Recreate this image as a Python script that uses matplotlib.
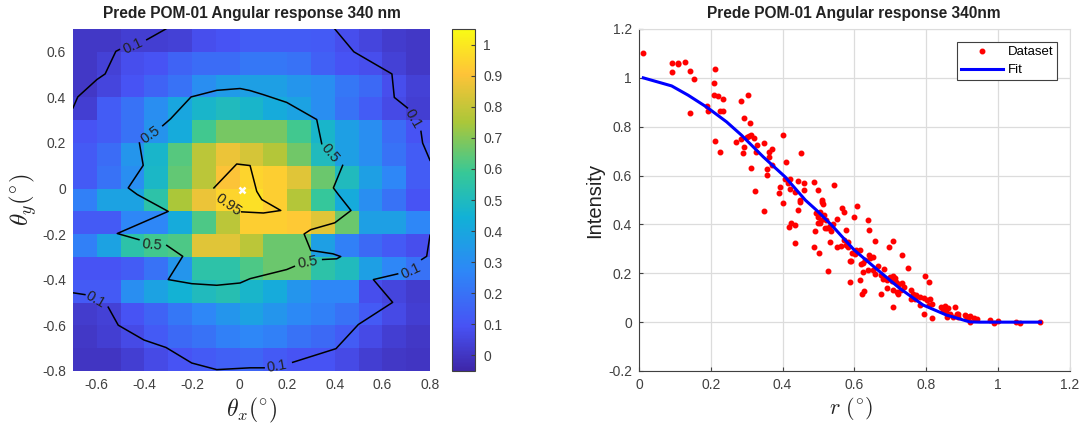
import numpy as np
import matplotlib
matplotlib.use('Agg')
import matplotlib.pyplot as plt
from matplotlib.colors import LinearSegmentedColormap

plt.rcParams['font.family'] = ['Liberation Sans', 'DejaVu Sans']
plt.rcParams['mathtext.fontset'] = 'cm'

title_left = 'Prede POM-01 Angular response 340 nm'
title_right = 'Prede POM-01 Angular response 340nm'

# angular map, rows from top (theta_y = 0.6) to bottom (theta_y = -0.8)
theta_x_edges = [-0.7, -0.6, -0.5, -0.4, -0.3, -0.2, -0.1, 0, 0.1, 0.2, 0.3, 0.4, 0.5, 0.6, 0.7, 0.8]
theta_y_edges = [0.7, 0.6, 0.5, 0.4, 0.3, 0.2, 0.1, 0, -0.1, -0.2, -0.3, -0.4, -0.5, -0.6, -0.7, -0.8]
response = [
    [.01, .01, .03, .03, .04, .08, .10, .13, .13, .13, .12, .08, .05, .02, .01],
    [.01, .04, .08, .10, .15, .18, .18, .22, .22, .20, .14, .10, .08, .04, .01],
    [.01, .05, .10, .15, .20, .30, .35, .37, .37, .33, .30, .22, .17, .08, .04],
    [.03, .13, .20, .30, .40, .47, .50, .47, .42, .38, .30, .20, .13, .07, .03],
    [.10, .13, .20, .32, .42, .60, .68, .68, .68, .60, .47, .37, .30, .18, .10],
    [.12, .18, .33, .47, .63, .78, .87, .83, .77, .67, .50, .37, .30, .20, .13],
    [.12, .20, .30, .48, .65, .78, .90, .95, .93, .85, .66, .50, .37, .27, .13],
    [.25, .38, .38, .55, .75, .87, .95, .98, .93, .77, .58, .42, .30, .20, .10],
    [.12, .12, .27, .27, .42, .62, .78, .93, .93, .92, .85, .66, .37, .37, .27],
    [.25, .38, .55, .60, .62, .85, .85, .78, .66, .66, .37, .25, .17, .12, .08],
    [.10, .10, .13, .20, .33, .55, .55, .62, .66, .66, .55, .50, .37, .27, .20],
    [.12, .12, .30, .38, .45, .50, .53, .47, .42, .33, .27, .27, .08, .05, .02],
    [.02, .04, .10, .15, .22, .27, .33, .38, .33, .28, .25, .20, .12, .07, .03],
    [.01, .03, .07, .12, .17, .20, .25, .27, .25, .20, .17, .13, .07, .03, .01],
    [0, 0, .03, .07, .10, .12, .14, .16, .12, .10, .10, .07, .03, .01, 0],
]

# contour pieces, gaps are where the labels sit
c01_x = [[-0.70, -0.68, -0.60, -0.565, -0.52, -0.505], [-0.39, -0.31],
         [0.40, 0.48, 0.64, 0.65, 0.705], [0.762, 0.769, 0.80],
         [0.80, 0.786, 0.765], [0.664, 0.562, 0.643, 0.499, 0.405, 0.223],
         [0.103, 0.044, -0.096, -0.201, -0.309, -0.402, -0.51, -0.552], [-0.65, -0.70]]
c01_y = [[0.354, 0.402, 0.478, 0.503, 0.602, 0.61], [0.653, 0.70],
         [0.70, 0.60, 0.503, 0.40, 0.354], [0.251, 0.20, 0.124],
         [-0.205, -0.297, -0.311], [-0.374, -0.399, -0.499, -0.596, -0.702, -0.762],
         [-0.786, -0.786, -0.794, -0.765, -0.697, -0.664, -0.599, -0.52], [-0.465, -0.457]]
c05_x = [[-0.323, -0.29, -0.204, -0.096, 0.002, 0.044, 0.10, 0.198, 0.324, 0.345],
         [0.433, 0.394, 0.415, 0.468, 0.40, 0.299, 0.271, 0.299, 0.392, 0.425, 0.408, 0.349],
         [0.23, 0.198, 0.044, 0.002, -0.096, -0.201, -0.30, -0.239, -0.306],
         [-0.423, -0.514, -0.30, -0.43, -0.468, -0.405, -0.421]]
c05_y = [[0.276, 0.306, 0.402, 0.431, 0.439, 0.43, 0.412, 0.378, 0.303, 0.197],
         [0.102, 0.003, -0.026, -0.096, -0.15, -0.18, -0.199, -0.271, -0.286, -0.298, -0.308, -0.311],
         [-0.341, -0.355, -0.395, -0.414, -0.424, -0.417, -0.399, -0.297, -0.249],
         [-0.224, -0.197, -0.10, -0.026, 0.003, 0.102, 0.20]]
c095_x = [-0.108, -0.012, 0.044, 0.072, 0.093, 0.173, 0.10, 0.009]
c095_y = [0.003, 0.108, 0.101, -0.012, -0.048, -0.096, -0.107, -0.102]

# radial profile
r_data = [.012, .092, .108, .110, .129, .091, .141, .153, .212, .209, .209, .220, .235, .305, .283, .190,
          .192, .142, .226, .235, .294, .309, .212, .227, .270, .283, .302, .307, .311, .321, .292, .291,
          .328, .327, .348, .400, .372, .363, .363, .311, .372, .358, .357, .451, .409, .322, .392, .391,
          .422, .408, .416, .421, .444, .459, .487, .544, .499, .459, .436, .449, .509,
          .402, .348, .450, .442, .509, .512, .566, .571, .492, .504, .515, .500, .507, .521, .551, .504,
          .500, .542, .532, .525, .518, .424, .435, .419, .490, .534, .577, .435, .533, .488, .502, .552,
          .562, .577, .571, .583, .583, .528, .588, .608, .598, .638, .642,
          .659, .708, .697, .734, .750, .796, .809, .595, .602, .616, .604, .591, .618, .623, .630, .642,
          .651, .644, .625, .639, .653, .667, .682, .659, .674, .681, .690, .699, .707, .713, .704, .716,
          .725, .733, .738, .729, .719, .708, .722, .691, .675, .628, .621, .616, .587, .708, .757, .764,
          .757, .773, .782, .769, .782, .794, .803, .811, .818, .809, .794, .818, .843, .852, .862, .848,
          .855, .866, .859, .882, .887, .876, .911, .918,
          .910, .917, .922, .924, .933, .942, .978, .989, 1.001, 1.050, 1.061, 1.119, .890, .890]
i_data = [1.102, 1.059, 1.056, 1.059, 1.064, 1.023, 1.027, .996, 1.038, .977, .928, .925, .914, .928, .906, .884,
          .864, .857, .866, .866, .834, .816, .741, .698, .738, .748, .756, .763, .767, .753, .719, .694,
          .726, .696, .735, .765, .707, .698, .678, .633, .645, .628, .603, .694, .655, .536, .554, .528,
          .587, .587, .568, .547, .578, .570, .572, .562, .540, .542, .531, .499, .499,
          .486, .454, .492, .458, .492, .483, .469, .449, .445, .452, .438, .431, .420, .417, .424, .407,
          .404, .400, .393, .387, .387, .407, .396, .389, .374, .374, .377, .326, .330, .308, .281, .307,
          .311, .315, .336, .329, .308, .211, .251, .476, .431, .420, .377,
          .332, .332, .308, .276, .222, .190, .166, .284, .278, .297, .297, .250, .237, .243, .256, .274,
          .265, .261, .206, .213, .213, .229, .216, .196, .192, .175, .172, .186, .188, .179, .169, .165,
          .158, .161, .145, .131, .124, .131, .115, .138, .116, .127, .115, .172, .164, .063, .131, .117,
          .093, .111, .104, .093, .070, .097, .090, .093, .076, .070, .035, .019, .063, .065, .056, .049,
          .042, .035, .022, .063, .033, .022, .025, .015,
          .029, .019, .001, .025, .019, .011, .008, -.003, .005, .001, -.005, 0, .035, .022]
r_fit = [.012, .091, .137, .19, .244, .286, .346, .407, .464, .495, .537, .6, .666, .727, .792, .857, .922, .95, 1.119]
i_fit = [1.0, .967, .929, .879, .82, .765, .677, .595, .499, .458, .397, .295, .213, .138, .07, .029, .001, 0, 0]

parula = LinearSegmentedColormap.from_list('parula', [
    (0.00, (0.2422, 0.1504, 0.6603)),
    (0.13, (0.2810, 0.3228, 0.9579)),
    (0.29, (0.1786, 0.5289, 0.9682)),
    (0.45, (0.0689, 0.6948, 0.8394)),
    (0.58, (0.2161, 0.7843, 0.5923)),
    (0.73, (0.6720, 0.7793, 0.2227)),
    (0.87, (0.9970, 0.7659, 0.2199)),
    (1.00, (0.9769, 0.9839, 0.0805))])

W, H = 1083, 425
fig = plt.figure(figsize=(W / 100, H / 100), dpi=100)
grey = '#404040'


def box(x0, x1, y0, y1):
    return [x0 / W, 1 - y1 / H, (x1 - x0) / W, (y1 - y0) / H]


# left panel
ax1 = fig.add_axes(box(73, 430, 29, 371))
mesh = ax1.pcolormesh(theta_x_edges, theta_y_edges, response, cmap=parula, vmin=-0.05, vmax=1.05)
for xs, ys in zip(c01_x, c01_y):
    ax1.plot(xs, ys, color='k', lw=1.1)
for xs, ys in zip(c05_x, c05_y):
    ax1.plot(xs, ys, color='k', lw=1.1)
ax1.plot(c095_x, c095_y, color='k', lw=1.1)
ax1.plot([0.009], [-0.007], 'x', color='w', ms=4.5, mew=1.8)

contour_labels = [('0.1', -0.45, 0.627, 25), ('0.1', 0.729, 0.307, -60), ('0.1', 0.719, -0.36, 25),
                  ('0.1', 0.157, -0.78, 10), ('0.1', -0.608, -0.487, -30), ('0.5', -0.374, 0.237, 35),
                  ('0.5', 0.38, 0.154, -50), ('0.5', 0.287, -0.325, 10), ('0.5', -0.368, -0.249, -5),
                  ('0.95', -0.049, -0.07, -35)]
for txt, lx, ly, rot in contour_labels:
    ax1.text(lx, ly, txt, rotation=rot, ha='center', va='center', fontsize=10.5, color='#222222',
             rotation_mode='anchor')

ax1.set_xlim(-0.7, 0.8)
ax1.set_ylim(-0.8, 0.7)
ax1.set_xticks([-0.6, -0.4, -0.2, 0, 0.2, 0.4, 0.6, 0.8])
ax1.set_xticklabels(['-0.6', '-0.4', '-0.2', '0', '0.2', '0.4', '0.6', '0.8'])
ax1.set_yticks([-0.8, -0.6, -0.4, -0.2, 0, 0.2, 0.4, 0.6])
ax1.set_yticklabels(['-0.8', '-0.6', '-0.4', '-0.2', '0', '0.2', '0.4', '0.6'])
ax1.tick_params(direction='in', length=0, labelsize=10, colors=grey, pad=5)
for s in ax1.spines.values():
    s.set_visible(False)
ax1.set_title(title_left, fontsize=11.2, fontweight='bold', color='#222222', pad=8)
ax1.set_xlabel(r'$\theta_x(^{\circ})$', fontsize=17, color='#222222', labelpad=3)
ax1.set_ylabel(r'$\theta_y(^{\circ})$', fontsize=18, color='#222222', labelpad=2)

# colorbar
cax = fig.add_axes(box(452, 475, 29, 371))
cb = fig.colorbar(mesh, cax=cax)
cb.set_ticks(np.arange(0, 1.01, 0.1))
cb.set_ticklabels(['0', '0.1', '0.2', '0.3', '0.4', '0.5', '0.6', '0.7', '0.8', '0.9', '1'])
cb.ax.tick_params(direction='in', length=3, width=0.8, labelsize=10, colors=grey, pad=6)
cb.outline.set_edgecolor(grey)
cb.outline.set_linewidth(0.8)

# right panel
ax2 = fig.add_axes(box(639, 1069.5, 29, 371))
ax2.plot(r_data, i_data, '.', color='r', ms=6.5, label='Dataset', zorder=3)
ax2.plot(r_fit, i_fit, '-', color='b', lw=2.2, label='Fit', zorder=4)
ax2.set_xlim(0, 1.2)
ax2.set_ylim(-0.2, 1.2)
ax2.set_xticks([0, 0.2, 0.4, 0.6, 0.8, 1, 1.2])
ax2.set_xticklabels(['0', '0.2', '0.4', '0.6', '0.8', '1', '1.2'])
ax2.set_yticks([-0.2, 0, 0.2, 0.4, 0.6, 0.8, 1, 1.2])
ax2.set_yticklabels(['-0.2', '0', '0.2', '0.4', '0.6', '0.8', '1', '1.2'])
ax2.grid(True, color='#dcdcdc', lw=0.9)
ax2.set_axisbelow(True)
ax2.tick_params(direction='in', length=3, width=0.8, labelsize=10, colors=grey, pad=5)
ax2.spines['top'].set_color('#dcdcdc')
ax2.spines['right'].set_color('#dcdcdc')
ax2.spines['left'].set_color(grey)
ax2.spines['bottom'].set_color(grey)
ax2.set_title(title_right, fontsize=11.2, fontweight='bold', color='#222222', pad=8)
ax2.set_xlabel(r'$r\ (^{\circ})$', fontsize=16, color='#222222')
ax2.xaxis.set_label_coords(0.492, -0.07)
ax2.set_ylabel('Intensity', fontsize=14.5, color='#222222', labelpad=3)
leg = ax2.legend(loc='upper right', bbox_to_anchor=(0.971, 0.962), borderaxespad=0, fontsize=9.5, fancybox=False,
                 framealpha=1, edgecolor=grey, handlelength=3.2, handletextpad=0.3, labelspacing=0.45,
                 borderpad=0.3)
leg.get_frame().set_linewidth(0.8)

fig.savefig('out.png', dpi=100)
